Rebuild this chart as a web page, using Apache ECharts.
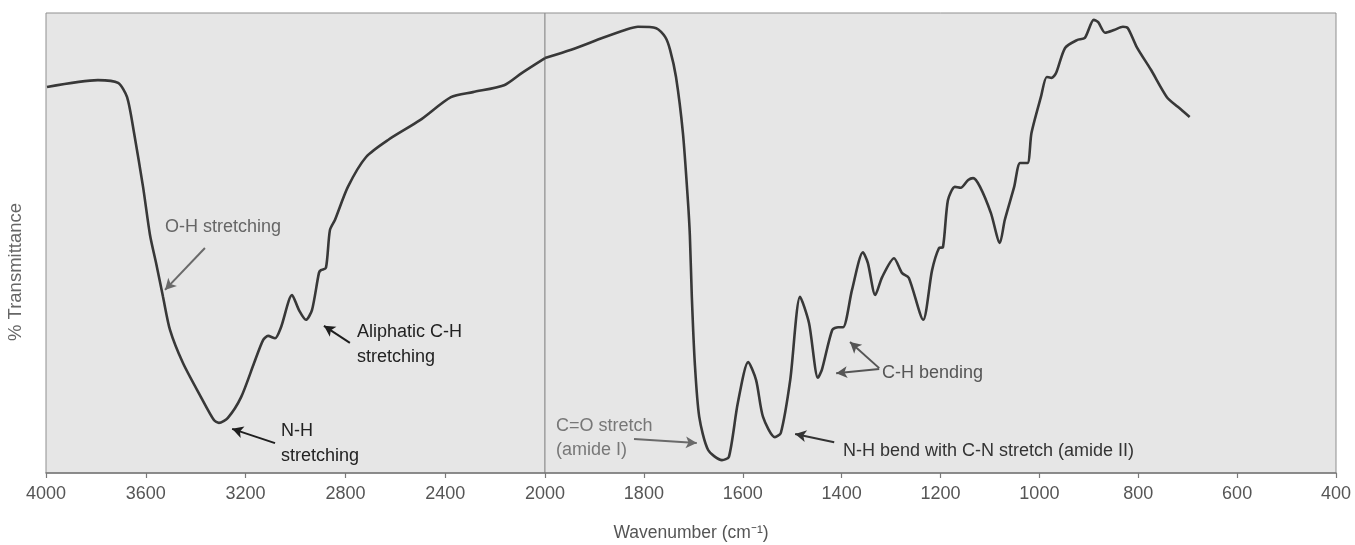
<!DOCTYPE html>
<html>
<head>
<meta charset="utf-8">
<script src="https://cdn.jsdelivr.net/npm/echarts@6/dist/echarts.min.js"></script>
<style>
  html, body { margin: 0; padding: 0; background: #ffffff; }
  #chart { width: 1355px; height: 545px; }
</style>
</head>
<body>
<div id="chart"></div>
<script>
// Wavenumber (cm-1) and % transmittance
const wavenumbers = [3996, 3792, 3711, 3675, 3647, 3611, 3583, 3559, 3531, 3503, 3451, 3379, 3327, 3307, 3271, 3218, 3166, 3130, 3110, 3082, 3058, 3014, 2986, 2958, 2934, 2906, 2898, 2878, 2862, 2842, 2790, 2717, 2629, 2501, 2377, 2289, 2164, 2092, 2000,
  1947, 1883, 1838, 1812, 1775, 1757, 1747, 1735, 1721, 1711, 1707, 1703, 1697, 1688, 1670, 1642, 1628, 1610, 1589, 1573, 1559, 1535, 1523, 1504, 1484, 1466, 1448, 1440, 1419, 1407, 1397, 1379, 1357, 1347, 1332, 1318, 1294, 1278, 1264, 1235, 1217, 1203, 1195, 1185, 1171, 1159, 1144, 1134, 1120, 1098, 1080, 1070, 1051, 1039, 1024, 1016, 997, 985, 975, 966, 948, 924, 908, 890, 881, 867, 849, 831, 821, 803, 774, 742, 720, 696];
const transmittance = [83.9, 85.4, 84.8, 81.7, 73.9, 62.2, 51.7, 45.7, 38.3, 31.1, 23.9, 16.5, 11.5, 10.9, 12.0, 16.5, 23.9, 28.9, 29.8, 29.3, 31.7, 38.7, 35.4, 33.3, 35.4, 43.5, 44.1, 44.6, 52.8, 55.0, 62.2, 68.7, 72.4, 76.7, 81.7, 82.8, 84.3, 87.0, 90.2,
  92.0, 94.6, 96.3, 97.0, 96.7, 94.8, 92.0, 86.1, 73.9, 59.3, 51.7, 38.3, 23.9, 12.2, 5.0, 2.8, 3.5, 15.2, 24.1, 20.2, 12.2, 7.8, 8.7, 20.2, 38.3, 32.6, 20.7, 22.4, 31.1, 31.7, 31.7, 39.8, 48.0, 45.7, 38.7, 42.6, 46.7, 43.5, 42.4, 33.3, 44.1, 48.9, 49.1, 59.3, 62.2, 62.0, 63.7, 64.1, 62.2, 56.5, 50.0, 55.0, 62.2, 67.4, 67.4, 73.9, 81.7, 86.1, 85.9, 87.0, 92.4, 94.1, 94.6, 98.5, 98.0, 95.7, 96.3, 97.0, 96.7, 92.6, 87.6, 81.7, 79.6, 77.4];

// Axis segments (the scale changes at 2000 cm-1)
const leftTicks = { min: 2000, max: 4000, interval: 400 };
const rightTicks = { min: 400, max: 2000, interval: 200 };

// Annotation arrows: [grid, fromWavenumber, fromT, toWavenumber, toT, colour]
const arrows = [
  [0, 3363, 48.9, 3523, 39.8, '#6a6a6a'],
  [0, 2782, 28.3, 2886, 32.0, '#1e1e1e'],
  [0, 3082, 6.5, 3254, 9.6, '#1e1e1e'],
  [1, 1820, 7.4, 1693, 6.5, '#6a6a6a'],
  [1, 1415, 6.7, 1494, 8.5, '#333333'],
  [1, 1324, 22.8, 1383, 28.5, '#555555'],
  [1, 1324, 22.6, 1411, 21.7, '#555555']
];
// Annotation texts
const notes = [
  { text: 'O-H stretching', x: 165, y: 228, color: '#666666' },
  { text: 'Aliphatic C-H', x: 357, y: 333, color: '#222222' },
  { text: 'stretching', x: 357, y: 358, color: '#222222' },
  { text: 'N-H', x: 281, y: 432, color: '#222222' },
  { text: 'stretching', x: 281, y: 457, color: '#222222' },
  { text: 'C=O stretch', x: 556, y: 427, color: '#777777' },
  { text: '(amide I)', x: 556, y: 451, color: '#777777' },
  { text: 'N-H bend with C-N stretch (amide II)', x: 843, y: 452, color: '#333333' },
  { text: 'C-H bending', x: 882, y: 374, color: '#555555' }
];

const leftData = [], rightData = [];
wavenumbers.forEach((w, i) => {
  if (w >= 2000) leftData.push([w, transmittance[i]]);
  if (w <= 2000) rightData.push([w, transmittance[i]]);
});

function arrowLines(g) {
  return arrows.filter(a => a[0] === g).map(a => [
    { coord: [a[1], a[2]], lineStyle: { color: a[5] } },
    { coord: [a[3], a[4]] }
  ]);
}

const FONT = 'Liberation Sans, Arial, sans-serif';

const axisCommon = {
  type: 'value',
  inverse: true,
  axisLine: { show: true, onZero: false, lineStyle: { color: '#7a7a7a', width: 1.5 } },
  axisTick: { show: true, length: 5, lineStyle: { color: '#7a7a7a', width: 1.2 } },
  splitLine: { show: false },
  axisLabel: { color: '#555555', fontSize: 18, fontFamily: FONT, margin: 12, formatter: v => String(v) }
};

const lineStyle = { color: '#383838', width: 2.6 };

const option = {
  animation: false,
  backgroundColor: '#ffffff',
  grid: [
    { left: 46, width: 499, top: 13, height: 460, show: true, backgroundColor: '#e6e6e6', borderColor: '#8f8f8f', borderWidth: 1 },
    { left: 545, width: 791, top: 13, height: 460, show: true, backgroundColor: '#e6e6e6', borderColor: '#8f8f8f', borderWidth: 1 }
  ],
  xAxis: [
    Object.assign({}, axisCommon, { gridIndex: 0, min: leftTicks.min, max: leftTicks.max, interval: leftTicks.interval }),
    Object.assign({}, axisCommon, { gridIndex: 1, min: rightTicks.min, max: rightTicks.max, interval: rightTicks.interval,
      axisLabel: Object.assign({}, axisCommon.axisLabel, { showMaxLabel: false }) })
  ],
  yAxis: [
    { type: 'value', gridIndex: 0, min: 0, max: 100, show: false },
    { type: 'value', gridIndex: 1, min: 0, max: 100, show: false }
  ],
  series: [
    {
      type: 'line', xAxisIndex: 0, yAxisIndex: 0, data: leftData, showSymbol: false, smooth: 0.25,
      lineStyle: lineStyle,
      markLine: { silent: true, symbol: ['none', 'arrow'], symbolSize: [9, 11], label: { show: false },
        lineStyle: { type: 'solid', width: 2 }, data: arrowLines(0) }
    },
    {
      type: 'line', xAxisIndex: 1, yAxisIndex: 1, data: rightData, showSymbol: false, smooth: 0.25,
      lineStyle: lineStyle,
      markLine: { silent: true, symbol: ['none', 'arrow'], symbolSize: [9, 11], label: { show: false },
        lineStyle: { type: 'solid', width: 2 }, data: arrowLines(1) }
    }
  ],
  graphic: notes.map(n => ({
    type: 'text', left: n.x, top: n.y - 10, z: 100,
    style: { text: n.text, fill: n.color, fontSize: 18, fontFamily: FONT }
  })).concat([
    { type: 'text', x: 691, y: 533, z: 100,
      style: { text: 'Wavenumber (cm⁻¹)', fill: '#555555', fontSize: 17.5, fontFamily: FONT, align: 'center', verticalAlign: 'middle' } },
    { type: 'text', x: 16, y: 272, rotation: Math.PI / 2, z: 100,
      style: { text: '% Transmittance', fill: '#666666', fontSize: 18.5, fontFamily: FONT, align: 'center', verticalAlign: 'middle' } }
  ])
};

const chart = echarts.init(document.getElementById('chart'), null, { renderer: 'canvas' });
chart.setOption(option);
</script>
</body>
</html>
